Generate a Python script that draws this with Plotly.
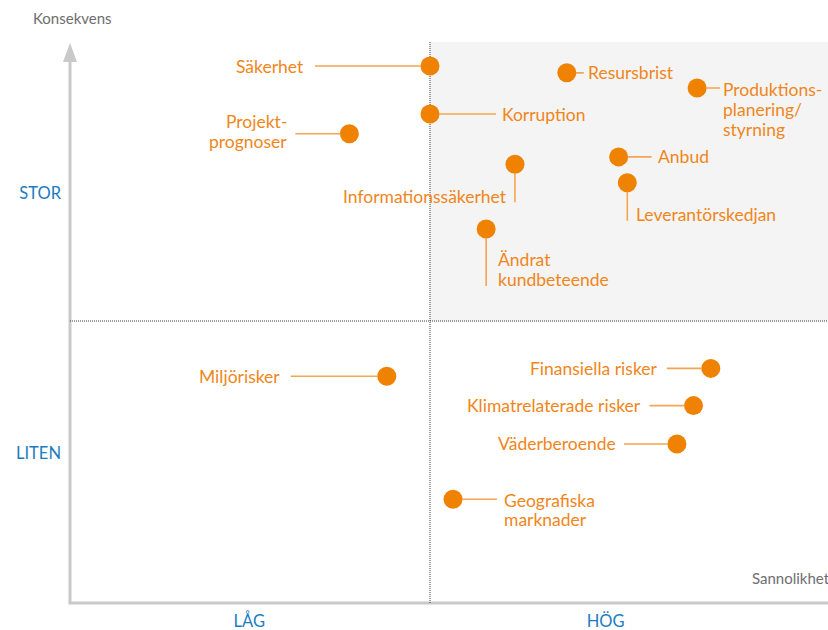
import plotly.graph_objects as go

# ---------------- data ----------------
risks = [
    "Säkerhet", "Resursbrist", "Produktions-\nplanering/\nstyrning", "Korruption",
    "Projekt-\nprognoser", "Anbud", "Informationssäkerhet", "Leverantörskedjan",
    "Ändrat\nkundbeteende", "Miljörisker", "Finansiella risker",
    "Klimatrelaterade risker", "Väderberoende", "Geografiska\nmarknader",
]
probability = [5.00, 6.90, 8.71, 5.00, 3.88, 7.62, 6.18, 7.74, 5.78, 4.40, 8.90, 8.66, 8.43, 5.32]
consequence = [9.52, 9.40, 9.13, 8.67, 8.32, 7.91, 7.78, 7.45, 6.63, 4.02, 4.16, 3.50, 2.82, 1.84]

x_ticks = [2.49, 7.44]
x_ticktext = ["LÅG", "HÖG"]
y_ticks = [7.26, 2.66]
y_ticktext = ["STOR", "LITEN"]
x_title = "Sannolikhet"
y_title = "Konsekvens"
threshold = 5.0

# ---------------- style ----------------
ORANGE = "#EF8200"
TEXT_ORANGE = "#F0861A"
LEADER = "#F5A552"
BLUE = "#1B7CC0"
GREY_AXIS = "#C9C9C9"
FONT = "Lato"
LABEL_SIZE = 17.5

W, H = 828, 630
ML, MR, MT, MB = 70, 0, 42, 27
PW, PH = W - ML - MR, H - MT - MB
PX_X = 72.0   # pixels per probability unit
PX_Y = 56.4   # pixels per consequence unit
x_max = PW / PX_X
y_max = PH / PX_Y


def pxx(px):
    """screen x pixel -> paper x"""
    return (px - ML) / PW


def pxy(py):
    """screen y pixel -> paper y"""
    return (H - MB - py) / PH


# label placement: leader tail offset (px, screen), text anchor, text x offset, line y offsets
place = {
    "Säkerhet": ((-115, 0), "right", -126, [0]),
    "Resursbrist": ((17, 0), "left", 21, [0]),
    "Produktions-\nplanering/\nstyrning": ((23, 0), "left", 26, [1, 21, 41]),
    "Korruption": ((66, 0), "left", 72, [0]),
    "Projekt-\nprognoser": ((-54, 0), "right", -62, [-12, 8]),
    "Anbud": ((33, 0), "left", 39, [0]),
    "Informationssäkerhet": ((0, 38), "right", -8, [32]),
    "Leverantörskedjan": ((0, 38), "left", 9, [32]),
    "Ändrat\nkundbeteende": ((0, 57), "left", 12, [30.5, 50.5]),
    "Miljörisker": ((-96, 0), "right", -107, [0]),
    "Finansiella risker": ((-44, 0), "right", -53, [0]),
    "Klimatrelaterade risker": ((-44, 0), "right", -53, [0]),
    "Väderberoende": ((-53, 0), "right", -61, [0]),
    "Geografiska\nmarknader": ((44, 0), "left", 51, [1, 20]),
}

fig = go.Figure()

fig.add_trace(go.Scatter(
    x=probability, y=consequence, mode="markers",
    marker=dict(size=19, color=ORANGE, line=dict(width=0)),
    hoverinfo="text", hovertext=[r.replace("\n", " ") for r in risks],
    showlegend=False, cliponaxis=False,
))

annotations = []
for name, px, cy in zip(risks, probability, consequence):
    (tdx, tdy), anchor, tx, tys = place[name]
    annotations.append(dict(
        x=px, y=cy, xref="x", yref="y", text="", showarrow=True,
        ax=tdx, ay=tdy, arrowhead=0, arrowwidth=1.6, arrowcolor=LEADER,
        standoff=9, borderpad=0, borderwidth=0,
    ))
    for line, ty in zip(name.split("\n"), tys):
        annotations.append(dict(
            x=px, y=cy, xref="x", yref="y", text=line, showarrow=False,
            xanchor=anchor, yanchor="middle", xshift=tx, yshift=-ty,
            font=dict(family=FONT, size=LABEL_SIZE, color=TEXT_ORANGE),
            borderpad=0, borderwidth=0,
        ))

annotations.append(dict(
    x=pxx(31), y=pxy(18), xref="paper", yref="paper", text=y_title,
    showarrow=False, xanchor="left", yanchor="middle",
    font=dict(family=FONT, size=15, color="#6E6E6E"),
))
annotations.append(dict(
    x=pxx(750), y=pxy(578), xref="paper", yref="paper", text=x_title,
    showarrow=False, xanchor="left", yanchor="middle",
    font=dict(family=FONT, size=15, color="#6E6E6E"),
))

DOT = dict(color="#3A3A3A", width=1, dash="1px,1px")
shapes = [
    # shaded high/high quadrant
    dict(type="rect", xref="x", yref="y", x0=threshold, x1=x_max, y0=threshold, y1=y_max,
         fillcolor="#F4F4F4", line=dict(width=0), layer="below"),
    # dotted quadrant dividers
    dict(type="line", xref="x", yref="y", x0=threshold, x1=threshold, y0=0, y1=y_max,
         line=DOT, layer="below"),
    dict(type="line", xref="x", yref="y", x0=0, x1=x_max, y0=threshold, y1=threshold,
         line=DOT, layer="below"),
    # axes (paper refs so they are not clipped at the plot edge)
    dict(type="line", xref="paper", yref="paper", x0=pxx(68.5), x1=1, y0=pxy(603), y1=pxy(603),
         line=dict(color=GREY_AXIS, width=3), layer="below"),
    dict(type="line", xref="paper", yref="paper", x0=pxx(70), x1=pxx(70), y0=pxy(603), y1=pxy(60),
         line=dict(color=GREY_AXIS, width=3), layer="below"),
    dict(type="path", xref="paper", yref="paper",
         path=f"M {pxx(63)} {pxy(62)} L {pxx(70)} {pxy(43)} L {pxx(77)} {pxy(62)} Z",
         fillcolor=GREY_AXIS, line=dict(width=0), layer="below"),
]

fig.update_layout(
    width=W, height=H, autosize=False,
    margin=dict(l=ML, r=MR, t=MT, b=MB, pad=0),
    paper_bgcolor="white", plot_bgcolor="white",
    xaxis=dict(range=[0, x_max], showgrid=False, zeroline=False, showline=False,
               tickvals=x_ticks, ticktext=x_ticktext, ticks="", ticklabelstandoff=6,
               tickfont=dict(family=FONT, size=16.5, color=BLUE), fixedrange=True),
    yaxis=dict(range=[0, y_max], showgrid=False, zeroline=False, showline=False,
               tickvals=y_ticks, ticktext=y_ticktext, ticks="", ticklabelstandoff=8,
               tickfont=dict(family=FONT, size=16.5, color=BLUE), fixedrange=True),
    annotations=annotations, shapes=shapes,
    font=dict(family=FONT),
)

fig.write_html("out.html", config={"displayModeBar": False},
               post_script="document.body.style.margin='0';document.body.style.overflow='hidden';")
